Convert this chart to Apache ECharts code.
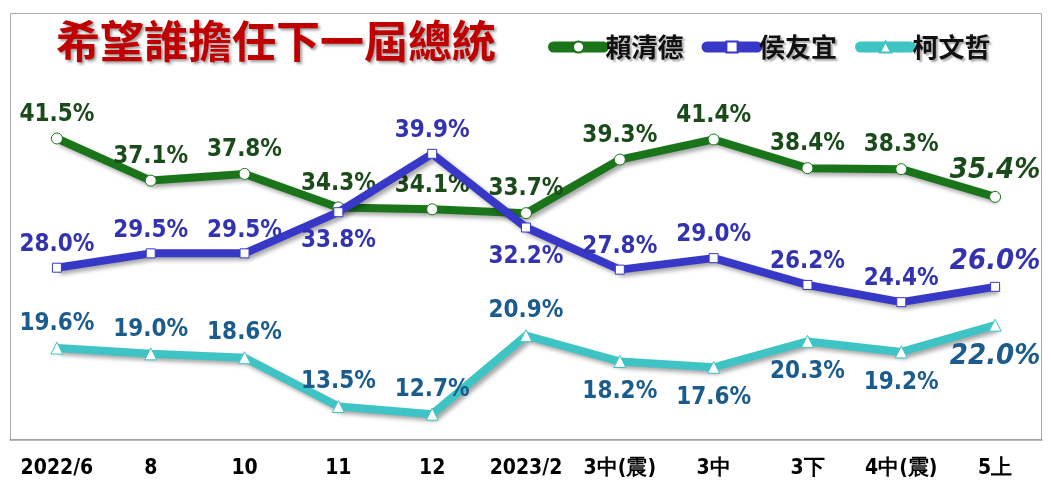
<!DOCTYPE html>
<html>
<head>
<meta charset="utf-8">
<script src="https://cdn.jsdelivr.net/npm/echarts@6/dist/echarts.min.js"></script>
<style>
  html, body { margin: 0; padding: 0; background: #fff; }
  #chart { width: 1051px; height: 490px; }
</style>
</head>
<body>
<div id="chart"></div>
<script>
// categories & values (percent)
var categories = ['2022/6', '8', '10', '11', '12', '2023/2', '3中(震)', '3中', '3下', '4中(震)', '5上'];
var lai = [41.5, 37.1, 37.8, 34.3, 34.1, 33.7, 39.3, 41.4, 38.4, 38.3, 35.4];
var hou = [28.0, 29.5, 29.5, 33.8, 39.9, 32.2, 27.8, 29.0, 26.2, 24.4, 26.0];
var ko  = [19.6, 19.0, 18.6, 13.5, 12.7, 20.9, 18.2, 17.6, 20.3, 19.2, 22.0];

var names = ['賴清德', '侯友宜', '柯文哲'];
var title = '希望誰擔任下一屆總統';

// which points get their label under the line
var belowIdx = { 'lai': [], 'hou': [3, 5], 'ko': [6, 7, 8, 9, 10] };

var numFont = '"DejaVu Sans Condensed", "Liberation Sans Narrow", "Arial Narrow", sans-serif';

function buildData(values, key) {
    var last = values.length - 1;
    return values.map(function (v, i) {
        var below = belowIdx[key].indexOf(i) >= 0;
        var item = {
            value: v,
            label: {
                position: below ? 'bottom' : 'top',
                distance: below ? 12 : 6
            }
        };
        if (i === last) {
            item.label.fontSize = 29;
            item.label.fontStyle = 'italic';
            item.label.distance = below ? 10 : 6;
        }
        return item;
    });
}

function makeSeries(name, values, key, lineColor, labelColor, symbol, symbolSize) {
    return {
        name: name,
        type: 'line',
        data: buildData(values, key),
        symbol: symbol,
        symbolSize: symbolSize,
        showAllSymbol: true,
        clip: false,
        z: key === 'ko' ? 2 : (key === 'lai' ? 3 : 4),
        lineStyle: {
            color: lineColor,
            width: 8,
            shadowColor: 'rgba(0,0,0,0.35)',
            shadowBlur: 4,
            shadowOffsetX: 3,
            shadowOffsetY: 3
        },
        itemStyle: {
            color: '#ffffff',
            borderColor: lineColor,
            borderWidth: 1
        },
        label: {
            show: true,
            color: labelColor,
            fontFamily: numFont,
            fontWeight: 'bold',
            fontSize: 24,
            formatter: function (p) { return p.value.toFixed(1) + '%'; }
        },
        emphasis: { disabled: true }
    };
}

var chart = echarts.init(document.getElementById('chart'));

var option = {
    animation: false,
    backgroundColor: '#ffffff',
    color: ['#1a741a', '#3838c8', '#3ec4c4'],
    graphic: [
        {
            type: 'rect',
            shape: { x: 10.5, y: 13.5, width: 1031, height: 426 },
            style: { fill: 'none', stroke: '#aaaaaa', lineWidth: 1 },
            silent: true,
            z: -1
        },
        {
            type: 'text',
            left: 56,
            top: 19,
            style: {
                text: title,
                fill: '#c00000',
                font: 'bold 44px "Noto Sans CJK TC", sans-serif',
                textShadowColor: 'rgba(0,0,0,0.4)',
                textShadowBlur: 3,
                textShadowOffsetX: 2,
                textShadowOffsetY: 2
            }
        }
    ],
    legend: {
        left: 543,
        top: 29,
        itemWidth: 50,
        itemHeight: 14,
        itemGap: 18,
        lineStyle: { width: 11, cap: 'round', shadowBlur: 0, shadowOffsetX: 0, shadowOffsetY: 0 },
        textStyle: {
            fontFamily: '"Noto Sans CJK TC", sans-serif',
            fontSize: 26,
            fontWeight: 'bold',
            color: '#111111',
            padding: [0, 0, 0, -3],
            textShadowColor: 'rgba(0,0,0,0.35)',
            textShadowBlur: 2,
            textShadowOffsetX: 2,
            textShadowOffsetY: 2
        },
        data: names
    },
    grid: { left: 10, right: 9, top: 105, bottom: 50 },
    xAxis: [
        {
            type: 'category',
            data: categories,
            boundaryGap: true,
            axisLine: { lineStyle: { color: '#a0a0a0', width: 1.5 } },
            axisTick: { alignWithLabel: true, length: 6, lineStyle: { color: '#a0a0a0' } },
            axisLabel: {
                interval: 0,
                color: '#000000',
                fontFamily: numFont,
                fontWeight: 'bold',
                fontSize: 21,
                margin: 18
            }
        },
        {
            type: 'category',
            data: categories,
            position: 'bottom',
            boundaryGap: true,
            axisLine: { show: false },
            axisTick: { alignWithLabel: true, inside: true, length: 6, lineStyle: { color: '#a0a0a0' } },
            axisLabel: { show: false }
        }
    ],
    yAxis: {
        type: 'value',
        min: 10,
        max: 45,
        show: false
    },
    series: [
        makeSeries(names[0], lai, 'lai', '#1a741a', '#1b4a1b', 'circle', 11),
        makeSeries(names[1], hou, 'hou', '#3838c8', '#3333b0', 'rect', 9),
        makeSeries(names[2], ko, 'ko', '#3ec4c4', '#1b5c8c', 'triangle', 12)
    ]
};

chart.setOption(option);
</script>
</body>
</html>
